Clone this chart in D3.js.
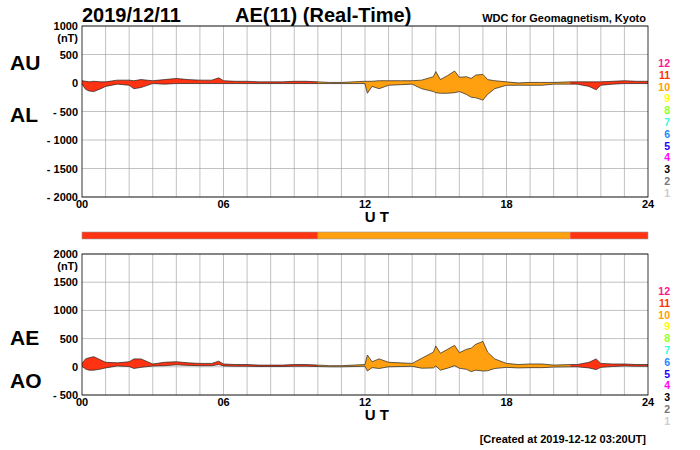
<!DOCTYPE html>
<html>
<head>
<meta charset="utf-8">
<script src="https://cdn.jsdelivr.net/npm/d3@7"></script>
<style>
body { margin: 0; background: #fff; }
text { font-family: "Liberation Sans", Arial, sans-serif; font-weight: bold; }
</style>
</head>
<body>
<div id="chart"></div>
<script>
// data (hours UT, nT)
const hours = [0, 0.15, 0.3, 0.5, 0.8, 1, 1.5, 2, 2.2, 2.5, 3, 3.5, 4, 4.5, 5, 5.5, 5.8, 6, 6.5, 7, 7.5, 8, 8.5, 9, 9.5, 10,
    10.5, 11, 11.5, 12, 12.1, 12.3, 12.6, 13, 13.5, 14, 14.4, 14.9, 15, 15.2, 15.5, 15.8, 16, 16.3, 16.5, 16.7, 17, 17.2, 17.5,
    18, 18.5, 19, 19.5, 20, 20.7, 21, 21.5, 21.8, 22, 22.5, 23, 23.5, 24];
const au = [40, 30, 20, 30, 20, 20, 50, 50, 40, 60, 40, 60, 80, 60, 50, 50, 90, 40, 30, 30, 20, 20, 20, 30, 30, 20,
    10, 10, 20, 30, 30, 30, 40, 40, 40, 40, 50, 110, 200, 60, 130, 210, 100, 110, 80, 140, 150, 60, 40,
    20, 0, 10, 10, 10, 20, 20, 20, 20, 20, 30, 40, 30, 30];
const al = [-20, -110, -140, -150, -100, -60, -20, -40, -100, -80, -10, -20, -10, -10, -10, -10, -10, -10, -10, -10, -10, -10, -10, -10, -10, -10,
    -10, -10, -10, -10, -180, -60, -100, -40, -30, -20, -100, -150, -170, -180, -180, -170, -150, -200, -250, -260, -300, -200, -100,
    -40, -40, -40, -40, -20, -20, -20, -60, -120, -40, -20, -10, -10, -10];
const ticksUT = ["00", "06", "12", "18", "24"];
const ticksTop = [1000, 500, 0, -500, -1000, -1500, -2000];
const ticksBot = [2000, 1500, 1000, 500, 0, -500];
const legendNums = ["12", "11", "10", "9", "8", "7", "6", "5", "4", "3", "2", "1"];
const legendColors = ["#ff1493", "#ff3300", "#ffa000", "#ffff00", "#99ff22", "#33ffdd", "#2288ff", "#2200ff", "#ff00ff", "#000000", "#777777", "#cccccc"];
// station-count segments
const segments = [{from: 0, to: 10, n: 11}, {from: 10, to: 20.7, n: 10}, {from: 20.7, to: 24, n: 11}];
const segColor = {11: "#ff3311", 10: "#ffa010"};

// AE = AU - AL, AO = (AU + AL) / 2 (index definitions)
const data = hours.map((h, i) => ({t: h, au: au[i], al: al[i], ae: au[i] - al[i], ao: (au[i] + al[i]) / 2}));

const svg = d3.select("#chart").append("svg").attr("width", 700).attr("height", 450);
const x = d3.scaleLinear().domain([0, 24]).range([82, 648]);

function panel(y, ticks, hi, lo, labels) {
    const g = svg.append("g");
    const top = y.range()[1], bottom = y.range()[0];
    // grid
    g.selectAll(".vg").data(d3.range(1, 24)).enter().append("line")
        .attr("x1", d => x(d)).attr("x2", d => x(d)).attr("y1", top).attr("y2", bottom)
        .attr("stroke", "#999").attr("stroke-width", 0.6);
    g.selectAll(".hg").data(ticks).enter().append("line")
        .attr("x1", 82).attr("x2", 648).attr("y1", d => y(d)).attr("y2", d => y(d))
        .attr("stroke", "#999").attr("stroke-width", 0.6);
    // areas
    segments.forEach(s => {
        const sub = data.filter(d => d.t >= s.from && d.t <= s.to);
        g.append("path").datum(sub)
            .attr("d", d3.area().x(d => x(d.t)).y0(d => y(d[lo])).y1(d => y(d[hi])))
            .attr("fill", segColor[s.n]);
    });
    [hi, lo].forEach(k => {
        g.append("path").datum(data)
            .attr("d", d3.line().x(d => x(d.t)).y(d => y(d[k])))
            .attr("fill", "none").attr("stroke", "#222").attr("stroke-width", 0.7);
    });
    g.append("rect").attr("x", 82).attr("y", top).attr("width", 566).attr("height", bottom - top)
        .attr("fill", "none").attr("stroke", "#000").attr("stroke-width", 0.8);
    // y labels
    g.selectAll(".yl").data(ticks).enter().append("text")
        .attr("x", 78).attr("y", d => y(d) + 4).attr("text-anchor", "end").attr("font-size", 11)
        .text(d => d < 0 ? "- " + (-d) : d);
    g.append("text").attr("x", 78).attr("y", y(ticks[0]) + 16).attr("text-anchor", "end").attr("font-size", 11).text("(nT)");
    // x labels
    g.selectAll(".xl").data(ticksUT).enter().append("text")
        .attr("x", (d, i) => x(i * 6)).attr("y", bottom + 11).attr("text-anchor", "middle").attr("font-size", 11)
        .text(d => d);
    g.append("text").attr("x", x(12.5)).attr("y", bottom + 25).attr("text-anchor", "middle").attr("font-size", 15).text("U T");
    // side labels
    labels.forEach(l => g.append("text").attr("x", 10).attr("y", l[1]).attr("font-size", 21).text(l[0]));
    // legend
    g.selectAll(".lg").data(legendNums).enter().append("text")
        .attr("x", 670).attr("y", (d, i) => top + 41 + i * 11.8).attr("text-anchor", "end").attr("font-size", 10.5)
        .attr("fill", (d, i) => legendColors[i]).text(d => d);
}

const yTop = d3.scaleLinear().domain([-2000, 1000]).range([197, 26]);
const yBot = d3.scaleLinear().domain([-500, 2000]).range([395, 254]);
panel(yTop, ticksTop, "au", "al", [["AU", 70], ["AL", 122]]);
panel(yBot, ticksBot, "ae", "ao", [["AE", 345], ["AO", 388]]);

// station-count bar
segments.forEach(s => {
    svg.append("rect").attr("x", x(s.from)).attr("y", 232).attr("width", x(s.to) - x(s.from)).attr("height", 7)
        .attr("fill", segColor[s.n]);
});
svg.append("rect").attr("x", 82).attr("y", 232).attr("width", 566).attr("height", 7).attr("fill", "none").attr("stroke", "#999").attr("stroke-width", 0.6);

// titles
svg.append("text").attr("x", 82).attr("y", 22).attr("font-size", 20).text("2019/12/11");
svg.append("text").attr("x", 235).attr("y", 22).attr("font-size", 20).text("AE(11) (Real-Time)");
svg.append("text").attr("x", 646).attr("y", 22).attr("text-anchor", "end").attr("font-size", 11).attr("font-weight", "normal").text("WDC for Geomagnetism, Kyoto");
svg.append("text").attr("x", 646).attr("y", 443).attr("text-anchor", "end").attr("font-size", 11).attr("font-weight", "normal").text("[Created at 2019-12-12 03:20UT]");
</script>
</body>
</html>
